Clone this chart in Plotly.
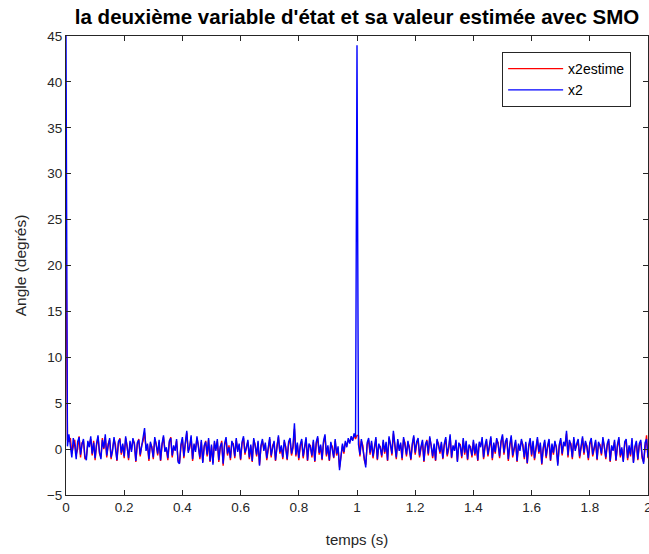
import plotly.graph_objects as go

dt = 0.005
x2 = [
    45, 0.3, 1.6, 0.2, -0.9, 1.2, 0.4, -1.1, 0.8, 1.3, -0.6, 0.5, 1.1, -0.8, -1.2, 0.9, 0.2, 1.4, -0.5, 0.7,
    -1.0, 0.6, 1.5, -0.3, -1.1, 1.0, 0.1, 1.6, -0.7, 0.4, 1.2, -0.9, -0.2, 1.3, 0.3, -1.2, 0.8, 1.1, -0.4, 0.6,
    -0.8, 1.4, 0.2, -1.0, 0.9, -0.3, 1.2, 0.5, -1.3, 0.7, 1.0, -0.6, 0.3, 1.1, 2.3, -0.2, 0.6, -1.1, 0.8, 0.1,
    -0.9, 1.3, 0.4, -0.5, 1.0, -1.2, 0.6, 1.5, -0.3, 0.2, -1.0, 0.9, 1.2, -0.7, 0.4, -0.2, 1.1, -1.4, -1.6, 0.5,
    1.3, -0.8, 0.7, 2.0, -0.4, 0.3, 1.5, -1.1, 0.6, -0.3, 1.4, 0.2, -0.9, 1.0, -1.5, 0.4, 0.8, -0.6, 1.2, -1.3,
    0.5, -1.7, 0.9, -0.2, 1.1, -1.2, 0.3, 0.7, -1.6, 0.6, 1.3, -0.5, 0.2, -1.0, 0.9, 0.4, -0.8, 1.2, -0.3, 0.6,
    -1.1, 0.8, 1.4, -0.4, 0.1, 1.0, -0.9, 0.5, -1.3, 1.2, 0.3, -0.6, 0.9, -1.8, 0.4, 1.1, -0.2, 0.7, -1.0, 0.5,
    1.3, -0.7, 0.2, 0.9, -1.2, 0.6, 1.5, -0.3, 0.4, -0.9, 1.0, 0.1, -1.1, 0.8, 1.2, -0.5, 0.3, 2.8, -0.6, 0.7,
    -1.0, 0.5, 1.1, -0.8, 0.3, 1.3, -1.2, 0.6, 0.2, -0.7, 1.0, -1.3, 0.8, 1.4, -0.4, 0.5, -1.1, 0.9, 1.6, -0.6,
    0.4, -1.2, 0.8, 0.1, -0.9, 1.1, -0.5, 0.3, -2.3, -0.8, 0.6, -0.3, 0.9, 0.2, 1.2, 0.6, 1.4, 0.9, 1.7, 1.3,
    44, 0.5, -0.6, 1.1, 0.2, -1.0, -2.0, 0.7, 1.2, -0.4, 0.9, -0.8, 0.3, 1.3, -1.1, 0.6, 0.1, -0.7, 1.0, -0.3,
    0.8, -1.2, 1.4, 0.4, -0.5, 2.0, 0.2, -0.9, 1.1, -0.2, 0.7, -1.0, 1.3, 0.5, -0.6, 0.9, 0.1, -1.1, 0.6, 1.5,
    -0.4, 0.8, 1.2, -0.7, 0.3, 1.0, -1.3, 0.5, 0.9, -0.5, 1.4, 0.2, -0.8, 0.6, -1.2, 1.1, 0.4, -0.3, 0.8, -1.0,
    0.6, 1.3, -0.6, 0.2, 1.6, -0.9, 0.4, -0.2, 1.0, -1.4, 0.7, 0.3, -0.8, 1.2, -0.4, 0.9, -1.1, 0.5, 0.1, -0.7,
    1.0, -0.5, 0.6, -1.2, 0.8, 0.2, 1.3, -0.9, 0.4, 1.1, -0.6, 0.3, 1.4, -1.0, 0.7, -0.3, 1.2, 0.5, -0.8, 0.9,
    1.6, -0.4, 0.8, 1.2, -1.1, 0.5, 1.5, -0.7, 0.2, 1.0, -1.3, 0.6, -0.2, 1.1, 0.3, -0.9, 0.8, -1.5, 0.4, 1.2,
    -0.6, 0.9, -1.0, 0.5, 1.3, -0.3, 0.7, -1.6, 0.2, 1.0, -0.8, 0.4, 1.1, -1.2, 0.6, -0.4, 0.9, 0.1, -1.8, 0.5,
    1.2, -0.5, 0.8, 0.3, 2.0, -0.7, 1.0, 0.4, -0.9, 1.3, -0.2, 0.6, 1.1, -0.8, 0.5, 1.4, -0.4, 0.9, 0.2, -1.0,
    0.7, 1.2, -0.6, 0.4, 1.0, -1.1, 0.8, 0.3, -0.5, 1.3, 0.1, -0.9, 0.6, 1.1, -1.3, 0.4, -0.2, 1.0, -1.2, 0.5,
    1.3, -0.7, 0.2, -1.4, 0.8, 1.1, -1.0, 0.4, -0.6, 1.2, -1.5, 0.3, 0.9, -1.1, 0.6, 1.0, -0.8, -1.6, 0.7, 1.1,
    -0.9,
]
x2estime = [
    22, 1.0, 0.8, 1.2, -0.5, 0.3, 1.0, -0.6, 0.0, 1.4, -0.9, 0.7, 0.9, -1.1, -0.8, 0.6, 0.5, 1.1, -0.7, 0.9,
    -1.2, 0.4, 1.3, -0.5, -0.9, 1.2, 0.0, 1.3, -0.9, 0.6, 1.0, -1.1, 0.0, 1.1, 0.5, -1.3, 0.6, 1.2, -0.6, 0.4,
    -1.0, 1.2, 0.4, -1.2, 0.7, -0.1, 1.0, 0.7, -1.4, 0.5, 1.1, -0.8, 0.4, 0.9, 1.8, 0.1, 0.4, -1.3, 0.6, 0.3,
    -1.1, 1.1, 0.6, -0.7, 0.8, -1.3, 0.4, 1.3, -0.1, 0.0, -1.2, 0.7, 1.3, -0.9, 0.2, 0.0, 0.9, -1.2, -1.5, 0.3,
    1.1, -1.0, 0.5, 1.8, -0.2, 0.1, 1.3, -1.3, 0.4, -0.1, 1.2, 0.4, -1.1, 0.8, -1.4, 0.2, 0.9, -0.8, 1.0, -1.4,
    0.3, -1.5, 0.7, 0.0, 0.9, -1.4, 0.1, 0.9, -1.8, 0.4, 1.1, -0.7, 0.4, -1.2, 0.7, 0.6, -1.0, 1.0, -0.1, 0.4,
    -1.2, 0.6, 1.2, -0.6, 0.3, 0.8, -1.1, 0.3, -1.4, 1.0, 0.5, -0.8, 0.7, -1.7, 0.2, 0.9, 0.0, 0.5, -1.2, 0.3,
    1.1, -0.9, 0.4, 0.7, -1.3, 0.4, 1.3, -0.5, 0.2, -1.1, 0.8, 0.3, -1.2, 0.6, 1.0, -0.7, 0.1, 2.2, -0.8, 0.5,
    -1.2, 0.3, 0.9, -1.0, 0.1, 1.1, -1.3, 0.4, 0.4, -0.9, 0.8, -1.4, 0.6, 1.2, -0.6, 0.3, -1.2, 0.7, 1.4, -0.8,
    0.2, -1.3, 0.6, 0.3, -1.0, 0.9, -0.7, 0.1, -2.0, -1.0, 0.4, -0.5, 0.7, 0.4, 1.0, 0.8, 1.2, 1.0, 1.5, 1.1,
    1.5, 1.5, -0.8, 0.9, 0.4, -1.2, -1.7, 0.5, 1.0, -0.6, 0.7, -1.0, 0.1, 1.1, -1.2, 0.4, 0.3, -0.9, 0.8, -0.5,
    0.6, -1.3, 1.2, 0.6, -0.7, 1.7, 0.4, -1.1, 0.9, 0.0, 0.5, -1.2, 1.1, 0.7, -0.8, 0.7, 0.3, -1.2, 0.4, 1.3,
    -0.6, 0.6, 1.0, -0.9, 0.1, 0.8, -1.4, 0.3, 1.0, -0.7, 1.2, 0.4, -1.0, 0.4, -1.3, 0.9, 0.6, -0.5, 0.6, -1.1,
    0.4, 1.1, -0.8, 0.0, 1.4, -1.0, 0.2, 0.0, 0.8, -1.3, 0.5, 0.5, -1.0, 1.0, -0.6, 0.7, -1.2, 0.3, 0.3, -0.9,
    0.8, -0.7, 0.4, -1.3, 0.6, 0.4, 1.1, -1.1, 0.2, 0.9, -0.8, 0.1, 1.2, -1.2, 0.5, -0.5, 1.0, 0.7, -1.0, 0.7,
    1.4, -0.6, 0.6, 1.0, -1.3, 0.3, 1.3, -0.9, 0.0, 0.8, -1.4, 0.4, 0.0, 0.9, 0.5, -1.1, 0.6, -1.6, 0.2, 1.0,
    -0.8, 0.7, -1.2, 0.3, 1.1, -0.5, 0.5, -1.7, 0.0, 0.8, -1.0, 0.2, 0.9, -1.3, 0.4, -0.6, 0.7, 0.3, -1.6, 0.3,
    1.0, -0.7, 0.6, 0.5, 1.7, -0.9, 0.8, 0.6, -1.1, 1.1, 0.0, 0.4, 0.9, -1.0, 0.3, 1.2, -0.6, 0.7, 0.4, -1.2,
    0.5, 1.0, -0.8, 0.2, 0.8, -1.2, 0.6, 0.5, -0.7, 1.1, 0.3, -1.1, 0.4, 0.9, -1.4, 0.2, 0.0, 0.8, -1.3, 0.3,
    1.1, -0.9, 0.0, -1.3, 0.6, 0.9, -1.2, 0.2, -0.8, 1.0, -1.4, 0.1, 0.7, -1.2, 0.4, 0.8, -1.0, -1.4, 0.5, 1.5,
    -1.0,
]
t = [round(i * dt, 4) for i in range(len(x2))]

x_ticks = [0, 0.2, 0.4, 0.6, 0.8, 1, 1.2, 1.4, 1.6, 1.8, 2]
x_ticktext = ["0", "0.2", "0.4", "0.6", "0.8", "1", "1.2", "1.4", "1.6", "1.8", "2"]
y_ticks = [-5, 0, 5, 10, 15, 20, 25, 30, 35, 40, 45]

FONT = "Liberation Sans, Arial, sans-serif"
AX = "#262626"

fig = go.Figure()
fig.add_trace(go.Scatter(x=t, y=x2estime, mode="lines", name="x2estime",
                         line=dict(color="#ff0000", width=1.4)))
fig.add_trace(go.Scatter(x=t, y=x2, mode="lines", name="x2",
                         line=dict(color="#0000ff", width=1.4)))

axis_common = dict(showline=True, linecolor=AX, linewidth=1, mirror="ticks",
                   ticks="inside", ticklen=5, tickcolor=AX, tickwidth=1,
                   showgrid=False, zeroline=False, ticklabeloverflow="allow",
                   automargin=False,
                   tickfont=dict(family=FONT, size=13.5, color=AX))

fig.update_xaxes(range=[0, 2], tickvals=x_ticks, ticktext=x_ticktext,
                 title=dict(text="temps (s)", font=dict(family=FONT, size=15, color=AX), standoff=20),
                 **axis_common)
fig.update_yaxes(range=[-5, 45], tickvals=y_ticks,
                 title=dict(text="Angle (degrés)", font=dict(family=FONT, size=15.5, color=AX), standoff=16),
                 **axis_common)

fig.update_layout(
    width=649, height=554,
    margin=dict(l=66, r=1, t=36, b=59, autoexpand=False),
    paper_bgcolor="white", plot_bgcolor="white",
    title=dict(text="<b>la deuxième variable d'état et sa valeur estimée avec SMO</b>",
               x=0.5, xref="paper", xanchor="center", y=1 - 17 / 554, yanchor="middle",
               font=dict(family=FONT, size=20.5, color="black")),
    legend=dict(x=0.971, y=0.965, xanchor="right", yanchor="top",
                bgcolor="white", bordercolor=AX, borderwidth=1,
                font=dict(family=FONT, size=14, color="black"),
                tracegroupgap=0, itemwidth=55),
    showlegend=True,
)

fig.write_html("out.html")
